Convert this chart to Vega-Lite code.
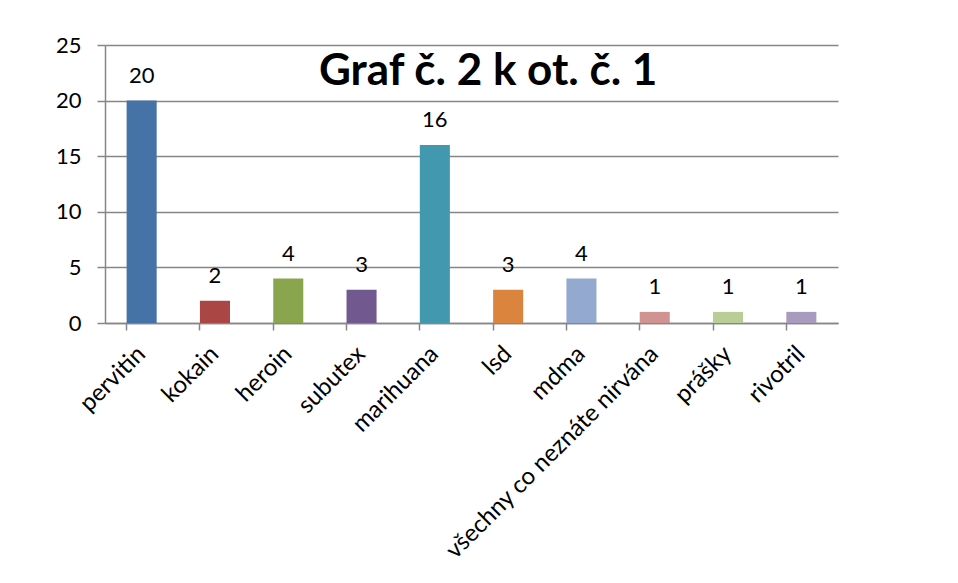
{
  "$schema": "https://vega.github.io/schema/vega-lite/v6.json",
  "width": 733,
  "height": 278,
  "autosize": "none",
  "padding": {"left": 105, "top": 45, "right": 120, "bottom": 260},
  "background": "white",
  "data": {
    "values": [
      {"drug": "pervitin", "count": 20},
      {"drug": "kokain", "count": 2},
      {"drug": "heroin", "count": 4},
      {"drug": "subutex", "count": 3},
      {"drug": "marihuana", "count": 16},
      {"drug": "lsd", "count": 3},
      {"drug": "mdma", "count": 4},
      {"drug": "všechny co neznáte nirvána", "count": 1},
      {"drug": "prášky", "count": 1},
      {"drug": "rivotril", "count": 1}
    ]
  },
  "config": {
    "view": {"stroke": null},
    "font": "Lato"
  },
  "layer": [
    {
      "mark": {"type": "bar"},
      "encoding": {
        "x": {
          "field": "drug",
          "type": "nominal",
          "sort": null,
          "scale": {"paddingInner": 0.59, "paddingOuter": 0.295},
          "axis": {
            "title": null,
            "labelAngle": -45,
            "labelAlign": "right",
            "labelBaseline": "middle",
            "labelFont": "Lato",
            "labelFontSize": 24,
            "labelColor": "black",
            "labelPadding": 20,
            "labelLimit": 500,
            "bandPosition": 0,
            "tickSize": 7,
            "tickColor": "#868686",
            "domainColor": "#868686",
            "domainWidth": 1.5,
            "tickWidth": 1.5
          }
        },
        "y": {
          "field": "count",
          "type": "quantitative",
          "scale": {"domain": [0, 25], "nice": false},
          "axis": {
            "title": null,
            "values": [0, 5, 10, 15, 20, 25],
            "labelFont": "Lato",
            "labelFontSize": 22,
            "labelColor": "black",
            "labelPadding": 16,
            "tickSize": 8,
            "tickColor": "#868686",
            "domainColor": "#868686",
            "gridColor": "#868686",
            "gridWidth": 1.5,
            "domainWidth": 1.5,
            "tickWidth": 1.5
          }
        },
        "color": {
          "field": "drug",
          "type": "nominal",
          "sort": null,
          "legend": null,
          "scale": {
            "range": ["#4572A7", "#AA4643", "#89A54E", "#71588F", "#4198AF", "#DB843D", "#93A9CF", "#D19392", "#B9CD96", "#A99BBD"]
          }
        }
      }
    },
    {
      "mark": {"type": "text", "baseline": "alphabetic", "dy": -18, "fontSize": 22, "font": "Lato", "color": "black"},
      "encoding": {
        "x": {"field": "drug", "type": "nominal", "sort": null},
        "y": {"field": "count", "type": "quantitative", "scale": {"domain": [0, 25], "nice": false}},
        "text": {"field": "count", "type": "quantitative"}
      }
    },
    {
      "data": {"values": [{"title": "Graf č. 2 k ot. č. 1", "anchorDrug": "lsd", "level": 21.4}]},
      "mark": {"type": "text", "baseline": "alphabetic", "align": "center", "dx": -20, "fontSize": 44, "fontWeight": "bold", "font": "Lato", "color": "black"},
      "encoding": {
        "x": {"field": "anchorDrug", "type": "nominal", "sort": null},
        "y": {"field": "level", "type": "quantitative", "scale": {"domain": [0, 25], "nice": false}},
        "text": {"field": "title", "type": "nominal"}
      }
    }
  ]
}
